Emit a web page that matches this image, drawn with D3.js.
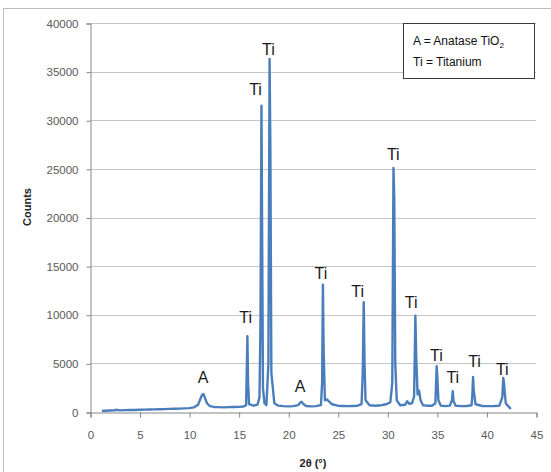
<!DOCTYPE html>
<html>
<head>
<meta charset="utf-8">
<script src="https://cdn.jsdelivr.net/npm/d3@7"></script>
<style>
  body { margin: 0; background: #fff; }
  svg { display: block; font-family: "Liberation Sans", Arial, sans-serif; }
</style>
</head>
<body>
<div id="chart"></div>
<script>
// XRD pattern
var twoTheta = [1.2, 1.5, 2, 2.5, 2.6, 3, 3.5, 4, 4.5, 5, 5.5, 6, 6.5, 7, 7.5, 8, 8.5, 9, 9.5, 10,
  10.5, 10.9, 11.1, 11.3, 11.45, 11.6, 11.8, 12.1, 12.5, 13, 13.5, 14, 14.5, 15, 15.5, 15.75, 15.82, 15.88, 15.95, 16.05,
  16.5, 16.9, 17.1, 17.2, 17.3, 17.37, 17.45, 17.6, 17.8, 18.0, 18.12, 18.2, 18.3, 18.6, 19, 19.5, 20, 20.5, 21, 21.2,
  21.35, 21.5, 21.8, 22.3, 22.8, 23.3, 23.42, 23.5, 23.58, 23.7, 23.9, 24.1, 24.4, 25, 25.5, 26, 26.5, 27, 27.4, 27.52,
  27.62, 27.7, 27.8, 28.2, 28.8, 29.4, 29.9, 30.3, 30.5, 30.62, 30.7, 30.8, 30.95, 31.3, 31.8, 32.0, 32.2, 32.5, 32.7, 32.83,
  32.92, 33.05, 33.2, 33.35, 33.6, 34, 34.5, 34.85, 34.98, 35.05, 35.15, 35.4, 35.8, 36.3, 36.52, 36.6, 36.68, 36.9, 37.5, 38,
  38.5, 38.58, 38.65, 38.72, 38.9, 39.6, 40.2, 40.8, 41.3, 41.6, 41.7, 41.77, 41.85, 41.95, 42.1, 42.3, 42.46];
var counts = [120, 130, 150, 170, 230, 170, 190, 200, 210, 230, 240, 260, 270, 290, 300, 320, 330, 350, 370, 400,
  480, 750, 1250, 1750, 1850, 1450, 900, 600, 520, 500, 480, 500, 520, 530, 560, 700, 4500, 7800, 3000, 800,
  650, 750, 1500, 9000, 31500, 18000, 2500, 900, 700, 5000, 36300, 27000, 4000, 900, 650, 600, 580, 600, 700, 950,
  1050, 850, 620, 580, 600, 700, 3000, 13100, 6000, 1200, 1300, 1100, 800, 650, 620, 600, 620, 650, 800, 4000,
  11300, 5000, 1200, 700, 650, 700, 800, 1000, 3000, 25100, 22000, 5000, 1200, 700, 750, 1100, 850, 900, 1600, 9900,
  5500, 1800, 2200, 1200, 700, 650, 650, 900, 4700, 3500, 1200, 650, 600, 650, 1200, 2150, 1100, 650, 600, 620,
  700, 1800, 3600, 2200, 800, 620, 600, 620, 650, 1500, 3500, 3000, 2000, 900, 700, 500, 300];

// peak labels (text and anchor in data units)
var peakText = ['A', 'Ti', 'Ti', 'Ti', 'A', 'Ti', 'Ti', 'Ti', 'Ti', 'Ti', 'Ti', 'Ti', 'Ti'];
var peakAt = [11.4, 15.7, 16.7, 18.0, 21.2, 23.3, 27.0, 30.6, 32.4, 34.95, 36.6, 38.8, 41.6];
var peakTop = [3000, 9150, 32600, 36700, 2050, 13700, 11800, 25900, 10700, 5240, 2980, 4630, 3800];

var xTicks = [0, 5, 10, 15, 20, 25, 30, 35, 40, 45];
var yTicks = [0, 5000, 10000, 15000, 20000, 25000, 30000, 35000, 40000];
var legendLines = ['A = Anatase TiO', 'Ti = Titanium'];

var W = 551, H = 472;
var svg = d3.select('#chart').append('svg').attr('width', W).attr('height', H);

// outer chart frame
svg.append('rect')
  .attr('x', 3.5).attr('y', 8.5).attr('width', 600).attr('height', 500)
  .attr('fill', 'none').attr('stroke', '#bfbfbf');

var x = d3.scaleLinear().domain([0, 45]).range([90, 536]);
var y = d3.scaleLinear().domain([0, 40000]).range([412, 23]);

// gridlines
svg.append('g').selectAll('line')
  .data(yTicks.slice(1))
  .enter().append('line')
  .attr('x1', 90).attr('x2', 536)
  .attr('y1', function(d) { return Math.round(y(d)) + 0.5; })
  .attr('y2', function(d) { return Math.round(y(d)) + 0.5; })
  .attr('stroke', '#c6c6c6');

var yAxis = svg.append('g')
  .attr('transform', 'translate(90.5,0.5)')
  .call(d3.axisLeft(y).tickValues(yTicks).tickSize(4).tickPadding(8).tickFormat(d3.format('d')));
var xAxis = svg.append('g')
  .attr('transform', 'translate(0.5,412.5)')
  .call(d3.axisBottom(x).tickValues(xTicks).tickSize(5).tickPadding(13).tickFormat(d3.format('d')));

[xAxis, yAxis].forEach(function(a) {
  a.select('.domain').attr('stroke', '#868686');
  a.selectAll('.tick line').attr('stroke', '#868686');
  a.selectAll('.tick text').attr('fill', '#595959').style('font-size', '11.5px');
});

// pattern
var pts = twoTheta.map(function(t, i) { return [t, counts[i]]; });
svg.append('path')
  .datum(pts)
  .attr('fill', 'none')
  .attr('stroke', '#4a7ebb')
  .attr('stroke-width', 2.4)
  .attr('stroke-linejoin', 'round')
  .attr('d', d3.line().x(function(d) { return x(d[0]); }).y(function(d) { return y(d[1]); }));

// peak labels
svg.append('g').selectAll('text')
  .data(peakText)
  .enter().append('text')
  .attr('x', function(d, i) { return x(peakAt[i]); })
  .attr('y', function(d, i) { return y(peakTop[i]); })
  .attr('text-anchor', 'middle')
  .style('font-size', '16px')
  .attr('fill', '#1a1a1a')
  .text(function(d) { return d; });

// legend
var lg = svg.append('g');
lg.append('rect')
  .attr('x', 403.5).attr('y', 23.5).attr('width', 131).attr('height', 55)
  .attr('fill', '#fff').attr('stroke', '#3a3a3a');
var l1 = lg.append('text').attr('x', 413).attr('y', 45).style('font-size', '12px').attr('fill', '#111');
l1.append('tspan').text(legendLines[0]);
l1.append('tspan').attr('dy', 3).style('font-size', '8px').text('2');
lg.append('text').attr('x', 413).attr('y', 66).style('font-size', '12px').attr('fill', '#111').text(legendLines[1]);

// axis titles
svg.append('text')
  .attr('transform', 'translate(31,207) rotate(-90)')
  .attr('text-anchor', 'middle')
  .style('font-size', '11px').style('font-weight', 'bold').attr('fill', '#222')
  .text('Counts');
svg.append('text')
  .attr('x', 313).attr('y', 467)
  .attr('text-anchor', 'middle')
  .style('font-size', '11px').style('font-weight', 'bold').attr('fill', '#222')
  .text('2θ (°)');
</script>
</body>
</html>
